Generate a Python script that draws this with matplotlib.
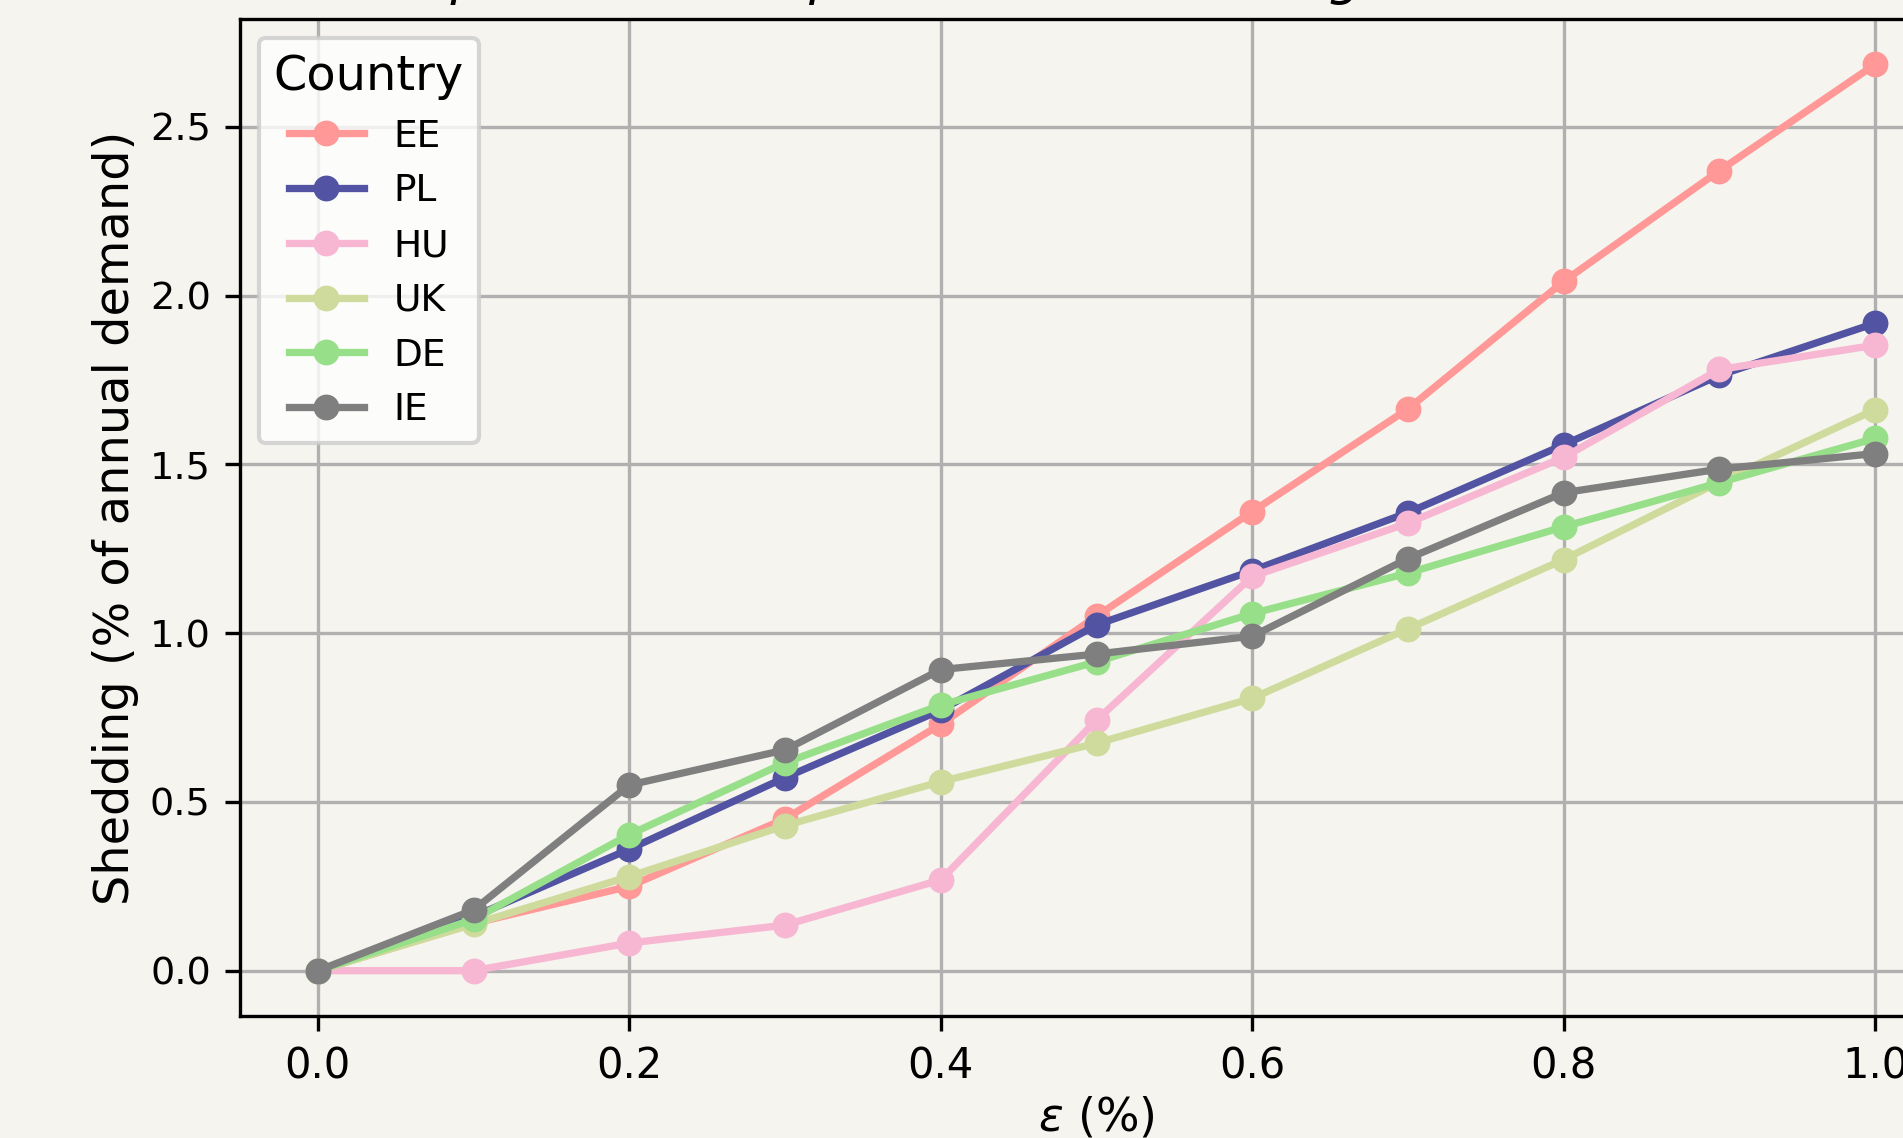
"""Load shedding vs epsilon, one line per country."""

import matplotlib
matplotlib.use("Agg")
import matplotlib.pyplot as plt

eps = [0.0, 0.1, 0.2, 0.3, 0.4, 0.5, 0.6, 0.7, 0.8, 0.9, 1.0]

countries = ["EE", "PL", "HU", "UK", "DE", "IE"]
colors = ["#ff9896", "#5254a3", "#f7b6d2", "#cedb9c", "#98df8a", "#7f7f7f"]

ee = [0.0, 0.14, 0.25, 0.45, 0.73, 1.05, 1.36, 1.664, 2.042, 2.37, 2.685]
pl = [0.0, 0.16, 0.36, 0.572, 0.772, 1.024, 1.185, 1.357, 1.558, 1.764, 1.918]
hu = [0.0, 0.0, 0.082, 0.135, 0.269, 0.742, 1.168, 1.326, 1.521, 1.781, 1.853]
uk = [0.0, 0.138, 0.279, 0.43, 0.56, 0.674, 0.807, 1.013, 1.218, 1.448, 1.662]
de = [0.0, 0.152, 0.403, 0.616, 0.787, 0.915, 1.058, 1.178, 1.315, 1.446, 1.577]
ie = [0.0, 0.18, 0.55, 0.654, 0.892, 0.938, 0.991, 1.221, 1.416, 1.486, 1.532]

series = [ee, pl, hu, uk, de, ie]

bg = "#f5f4ee"
fig = plt.figure(figsize=(1903 / 300, 1138 / 300), dpi=300, facecolor=bg)
ax = fig.add_axes([0.1261, 0.1072, 0.9002, 0.8761], facecolor=bg)

for name, vals, c in zip(countries, series, colors):
    ax.plot(eps, vals, marker="o", color=c, lw=1.75, ms=5.2, label=name)

ax.grid(True, color="#b0b0b0", lw=0.8)
ax.set_axisbelow(True)
ax.tick_params(axis="y", labelsize=9.2)
ax.set_xlabel(r"$\varepsilon$ (%)", fontsize=11, labelpad=2)
ax.set_ylabel("Shedding (% of annual demand)", fontsize=11.5, labelpad=2.5)
ax.set_title("Impact of ε on optimal load shedding across countries",
             fontsize=12.6, style="italic")
ax.legend(title="Country", loc="upper left", fontsize=9, title_fontsize=11.5)

fig.savefig("out.png", dpi=300, facecolor=bg)
